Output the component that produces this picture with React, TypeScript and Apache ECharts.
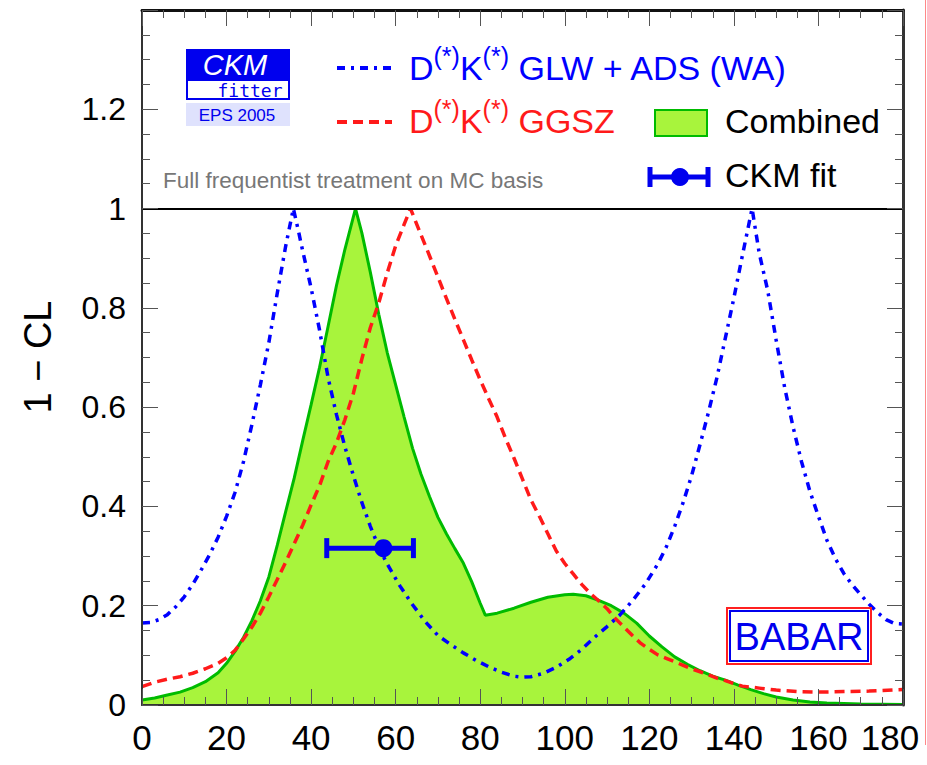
import React, { useEffect, useRef } from "react";
import * as echarts from "echarts";

// gamma (deg) vs 1 - CL
const glwAds: [number, number][] = [
  [0, 0.165], [2, 0.166], [4, 0.172], [6, 0.182], [8, 0.198], [10, 0.218], [12, 0.243], [14, 0.272],
  [16, 0.303], [18, 0.338], [20, 0.38], [22, 0.428], [24, 0.49], [26, 0.565], [28, 0.645], [30, 0.73],
  [32, 0.83], [34, 0.925], [35.8, 1.0], [37, 0.955], [38, 0.915], [40, 0.84], [42, 0.755], [44, 0.66],
  [46, 0.585], [48, 0.52], [50, 0.462], [52, 0.408], [54, 0.36], [56, 0.318], [58, 0.284], [61, 0.24],
  [64, 0.202], [67, 0.168], [70, 0.14], [73, 0.122], [76, 0.105], [79, 0.09], [82, 0.077], [85, 0.066],
  [88, 0.058], [90, 0.056], [92, 0.057], [95, 0.064], [98, 0.076], [101, 0.092], [104, 0.112], [107, 0.136],
  [110, 0.158], [113, 0.181], [116, 0.21], [119, 0.243], [122, 0.284], [124, 0.318], [126, 0.36], [128, 0.408],
  [130, 0.462], [132, 0.525], [134, 0.59], [136, 0.66], [138, 0.74], [140, 0.82], [142, 0.905], [144.3, 1.0],
  [146, 0.91], [148, 0.835], [150, 0.735], [152, 0.64], [154, 0.56], [156, 0.49], [158, 0.43], [160, 0.38],
  [162, 0.332], [164, 0.295], [166, 0.265], [168, 0.242], [170, 0.222], [172, 0.203], [174, 0.186], [176, 0.172],
  [178, 0.164], [180, 0.163],
];

const ggsz: [number, number][] = [
  [0, 0.037], [3, 0.046], [6, 0.052], [9, 0.057], [12, 0.064], [15, 0.073], [18, 0.084], [20, 0.095],
  [22, 0.11], [24, 0.133], [26, 0.157], [28, 0.185], [30, 0.218], [32, 0.253], [34, 0.288], [36, 0.325],
  [38, 0.362], [40, 0.403], [42, 0.442], [44, 0.49], [46, 0.528], [48, 0.575], [50, 0.628], [52, 0.697],
  [54, 0.76], [56, 0.81], [58, 0.87], [60, 0.925], [62, 0.968], [63.5, 1.0], [66, 0.947], [68, 0.905],
  [70, 0.862], [72, 0.819], [74, 0.777], [76, 0.736], [78, 0.695], [80, 0.655], [82, 0.617], [84, 0.58],
  [86, 0.537], [88, 0.497], [90, 0.455], [92, 0.413], [94, 0.38], [96, 0.345], [98, 0.31], [100, 0.285],
  [102, 0.264], [104, 0.243], [106, 0.225], [108, 0.21], [110, 0.194], [112, 0.174], [114, 0.157], [116, 0.14],
  [118, 0.124], [120, 0.112], [122, 0.101], [124, 0.094], [126, 0.087], [128, 0.08], [130, 0.073], [132, 0.067],
  [134, 0.061], [136, 0.054], [138, 0.049], [140, 0.043], [142, 0.038], [146, 0.034], [150, 0.03], [155, 0.027],
  [160, 0.026], [166, 0.027], [172, 0.028], [180, 0.031],
];

const combined: [number, number][] = [
  [0, 0.01], [3, 0.014], [6, 0.02], [9, 0.026], [12, 0.035], [15, 0.047], [18, 0.065], [20, 0.084],
  [22, 0.108], [24, 0.136], [26, 0.17], [28, 0.21], [30, 0.258], [32, 0.322], [34, 0.39], [36, 0.457],
  [38, 0.532], [40, 0.605], [42, 0.68], [44, 0.762], [46, 0.845], [48, 0.918], [50.5, 1.0], [52, 0.951],
  [54, 0.872], [56, 0.787], [58, 0.71], [60, 0.645], [62, 0.58], [64, 0.517], [66, 0.465], [68, 0.42],
  [70, 0.378], [72, 0.345], [74, 0.315], [76, 0.286], [78, 0.248], [80, 0.205], [81.2, 0.181], [84, 0.185],
  [88, 0.195], [92, 0.207], [96, 0.217], [100, 0.222], [102, 0.223], [105, 0.22], [108, 0.211], [111, 0.2],
  [114, 0.185], [117, 0.165], [120, 0.139], [123, 0.117], [126, 0.097], [129, 0.082], [132, 0.069], [135, 0.058],
  [138, 0.05], [141, 0.04], [144, 0.031], [147, 0.023], [150, 0.016], [154, 0.01], [158, 0.006], [162, 0.004],
  [170, 0.002], [180, 0.001],
];

// CKM fit: [low, central, high, 1-CL]
const ckmFit: [number, number, number, number][] = [[43.7, 57.1, 64.2, 0.316]];

const xTicks = { min: 0, max: 180, interval: 20 };
const yTicks = { min: 0, max: 1.4, interval: 0.2 };

const FONT = "'Liberation Sans', Arial, Helvetica, sans-serif";
const BLUE = "#0000ff";
const RED = "#ff1a1a";
const GREEN_LINE = "#00bb00";
const GREEN_FILL = "#a8f43c";

export default function App() {
  const ref = useRef<HTMLDivElement>(null);
  useEffect(() => {
    if (!ref.current) return;
    const chart = echarts.init(ref.current, undefined, { renderer: "svg" });

    const tickStyle = { color: "#555", width: 1 };
    const baseX = {
      type: "value",
      ...xTicks,
      z: 10,
      splitLine: { show: false },
      axisTick: { show: true, inside: true, length: 16, lineStyle: tickStyle },
      minorTick: { show: true, splitNumber: 4, length: 8, lineStyle: tickStyle },
    };
    const baseY = {
      type: "value",
      ...yTicks,
      z: 10,
      splitLine: { show: false },
      axisTick: { show: true, inside: true, length: 16, lineStyle: tickStyle },
      minorTick: { show: true, splitNumber: 4, length: 8, lineStyle: tickStyle },
    };

    const supStyle = (fill: string) => ({
      fontSize: 25,
      fontFamily: FONT,
      fill,
      verticalAlign: "top",
      lineHeight: 25,
    });
    const bigStyle = (fill: string) => ({ fontSize: 34, fontFamily: FONT, fill, lineHeight: 50 });
    const xLabelStyle = { fontFamily: FONT, fontSize: 35, color: "#000" };

    const option: any = {
      animation: false,
      backgroundColor: "#ffffff",
      grid: { left: 142, right: 24, top: 10, bottom: 60, outerBoundsMode: "none", containLabel: false },
      xAxis: [
        {
          ...baseX,
          position: "bottom",
          axisLine: { show: true, onZero: false, lineStyle: { color: "#333", width: 2 } },
          axisLabel: {
            ...xLabelStyle,
            margin: 15,
            formatter: (v: number) => (v >= xTicks.max ? `{last|${v}}` : String(v)),
            rich: { last: { ...xLabelStyle, padding: [0, 26, 0, 0] } },
          },
        },
        {
          ...baseX,
          position: "top",
          axisLine: { show: true, onZero: false, lineStyle: { color: "#111", width: 3 } },
          axisLabel: { show: false },
        },
      ],
      yAxis: [
        {
          ...baseY,
          position: "left",
          axisLine: { show: true, onZero: false, lineStyle: { color: "#333", width: 2 } },
          axisLabel: {
            fontFamily: FONT,
            fontSize: 32,
            color: "#000",
            margin: 16,
            formatter: (v: number) => (v > 1.3 ? "" : String(Math.round(v * 10) / 10)),
          },
        },
        {
          ...baseY,
          position: "right",
          axisLine: { show: true, onZero: false, lineStyle: { color: "#333", width: 3 } },
          axisLabel: { show: false },
        },
      ],
      series: [
        {
          name: "Combined",
          type: "line",
          data: combined,
          showSymbol: false,
          z: 2,
          lineStyle: { color: GREEN_LINE, width: 3 },
          areaStyle: { color: GREEN_FILL, opacity: 1 },
        },
        {
          name: "GGSZ",
          type: "line",
          data: ggsz,
          showSymbol: false,
          z: 3,
          lineStyle: { color: RED, width: 3.5, type: [10, 6] },
          markLine: {
            silent: true,
            symbol: "none",
            label: { show: false },
            lineStyle: { color: "#000", width: 2, type: "solid" },
            data: [{ yAxis: 1 }],
          },
        },
        {
          name: "GLW + ADS",
          type: "line",
          data: glwAds,
          showSymbol: false,
          z: 4,
          lineStyle: { color: BLUE, width: 3.5, type: [8, 6, 3, 6] },
        },
        {
          name: "CKM fit",
          type: "custom",
          z: 6,
          data: ckmFit,
          encode: { x: [0, 1, 2], y: 3 },
          renderItem: (params: any, api: any) => {
            const y = api.value(3);
            const lo = api.coord([api.value(0), y]);
            const c = api.coord([api.value(1), y]);
            const hi = api.coord([api.value(2), y]);
            const st = { stroke: "#0000ee", lineWidth: 5 };
            return {
              type: "group",
              children: [
                { type: "line", shape: { x1: lo[0], y1: lo[1], x2: hi[0], y2: hi[1] }, style: st },
                { type: "line", shape: { x1: lo[0], y1: lo[1] - 10, x2: lo[0], y2: lo[1] + 10 }, style: st },
                { type: "line", shape: { x1: hi[0], y1: hi[1] - 10, x2: hi[0], y2: hi[1] + 10 }, style: st },
                { type: "circle", shape: { cx: c[0], cy: c[1], r: 9 }, style: { fill: "#0000ee" } },
              ],
            };
          },
        },
      ],
      graphic: [
        // y axis title
        {
          type: "text",
          x: 38,
          y: 357,
          rotation: Math.PI / 2,
          style: {
            text: "1 \u2212 CL",
            fill: "#000",
            fontFamily: FONT,
            fontSize: 38,
            align: "center",
            verticalAlign: "middle",
            textAlign: "center",
            textVerticalAlign: "middle",
          },
        },
        // CKMfitter logo
        { type: "rect", shape: { x: 186, y: 49, width: 104, height: 31 }, style: { fill: "#0000ee" } },
        {
          type: "text",
          x: 235,
          y: 65,
          style: {
            text: "CKM",
            fill: "#fff",
            fontFamily: FONT,
            fontStyle: "italic",
            fontSize: 29,
            align: "center",
            verticalAlign: "middle",
            textAlign: "center",
            textVerticalAlign: "middle",
          },
        },
        {
          type: "rect",
          shape: { x: 187, y: 80, width: 102, height: 19 },
          style: { fill: "#fff", stroke: "#0000ee", lineWidth: 2 },
        },
        {
          type: "text",
          x: 250,
          y: 90,
          style: {
            text: "fitter",
            fill: "#0000ee",
            fontFamily: "'DejaVu Sans Mono', 'Liberation Mono', monospace",
            fontSize: 18,
            align: "center",
            verticalAlign: "middle",
            textAlign: "center",
            textVerticalAlign: "middle",
          },
        },
        { type: "rect", shape: { x: 186, y: 103, width: 104, height: 23 }, style: { fill: "#dfe2fd" } },
        {
          type: "text",
          x: 237,
          y: 115,
          style: {
            text: "EPS 2005",
            fill: "#0000ee",
            fontFamily: FONT,
            fontSize: 17,
            align: "center",
            verticalAlign: "middle",
            textAlign: "center",
            textVerticalAlign: "middle",
          },
        },
        // legend: GLW + ADS
        {
          type: "line",
          shape: { x1: 337, y1: 68, x2: 391, y2: 68 },
          style: { stroke: BLUE, lineWidth: 4, lineDash: [8, 6, 3, 6] },
        },
        {
          type: "text",
          x: 409,
          y: 43,
          style: {
            text: "{a|D}{s|(*)}{a|K}{s|(*)}{a| GLW + ADS (WA)}",
            rich: { a: bigStyle(BLUE), s: supStyle(BLUE) },
            align: "left",
            verticalAlign: "top",
            textAlign: "left",
            textVerticalAlign: "top",
          },
        },
        // legend: GGSZ
        {
          type: "line",
          shape: { x1: 337, y1: 122, x2: 392, y2: 122 },
          style: { stroke: RED, lineWidth: 4, lineDash: [10, 6] },
        },
        {
          type: "text",
          x: 409,
          y: 96,
          style: {
            text: "{a|D}{s|(*)}{a|K}{s|(*)}{a| GGSZ}",
            rich: { a: bigStyle(RED), s: supStyle(RED) },
            align: "left",
            verticalAlign: "top",
            textAlign: "left",
            textVerticalAlign: "top",
          },
        },
        // legend: Combined
        {
          type: "rect",
          shape: { x: 655, y: 110, width: 52, height: 26 },
          style: { fill: GREEN_FILL, stroke: GREEN_LINE, lineWidth: 2 },
        },
        {
          type: "text",
          x: 725,
          y: 121,
          style: {
            text: "Combined",
            fill: "#000",
            fontFamily: FONT,
            fontSize: 34,
            align: "left",
            verticalAlign: "middle",
            textAlign: "left",
            textVerticalAlign: "middle",
          },
        },
        // legend: CKM fit
        {
          type: "line",
          shape: { x1: 650, y1: 177, x2: 708, y2: 177 },
          style: { stroke: "#0000ee", lineWidth: 5 },
        },
        {
          type: "line",
          shape: { x1: 650, y1: 167, x2: 650, y2: 187 },
          style: { stroke: "#0000ee", lineWidth: 5 },
        },
        {
          type: "line",
          shape: { x1: 708, y1: 167, x2: 708, y2: 187 },
          style: { stroke: "#0000ee", lineWidth: 5 },
        },
        { type: "circle", shape: { cx: 680, cy: 177, r: 9 }, style: { fill: "#0000ee" } },
        {
          type: "text",
          x: 725,
          y: 175,
          style: {
            text: "CKM fit",
            fill: "#000",
            fontFamily: FONT,
            fontSize: 34,
            align: "left",
            verticalAlign: "middle",
            textAlign: "left",
            textVerticalAlign: "middle",
          },
        },
        // note
        {
          type: "text",
          x: 163,
          y: 180,
          style: {
            text: "Full frequentist treatment on MC basis",
            fill: "#777",
            fontFamily: FONT,
            fontSize: 22.5,
            align: "left",
            verticalAlign: "middle",
            textAlign: "left",
            textVerticalAlign: "middle",
          },
        },
        // BABAR box
        {
          type: "rect",
          shape: { x: 727, y: 608, width: 144, height: 56 },
          style: { fill: "#fff", stroke: "#ff2020", lineWidth: 2 },
          z: 20,
        },
        {
          type: "rect",
          shape: { x: 730, y: 611, width: 138, height: 50 },
          style: { fill: "#fff", stroke: "#0000ee", lineWidth: 2 },
          z: 20,
        },
        {
          type: "text",
          x: 799,
          y: 637,
          z: 21,
          style: {
            text: "BABAR",
            fill: "#0000ee",
            fontFamily: FONT,
            fontSize: 38,
            align: "center",
            verticalAlign: "middle",
            textAlign: "center",
            textVerticalAlign: "middle",
          },
        },
        // page edge line
        {
          type: "line",
          shape: { x1: 925.5, y1: 0, x2: 925.5, y2: 745 },
          style: { stroke: "#ff8888", lineWidth: 1 },
        },
      ],
    };

    chart.setOption(option);
    return () => chart.dispose();
  }, []);

  return (
    <div
      ref={ref}
      style={{ position: "fixed", left: 0, top: 0, width: 927, height: 765, background: "#fff" }}
    />
  );
}
